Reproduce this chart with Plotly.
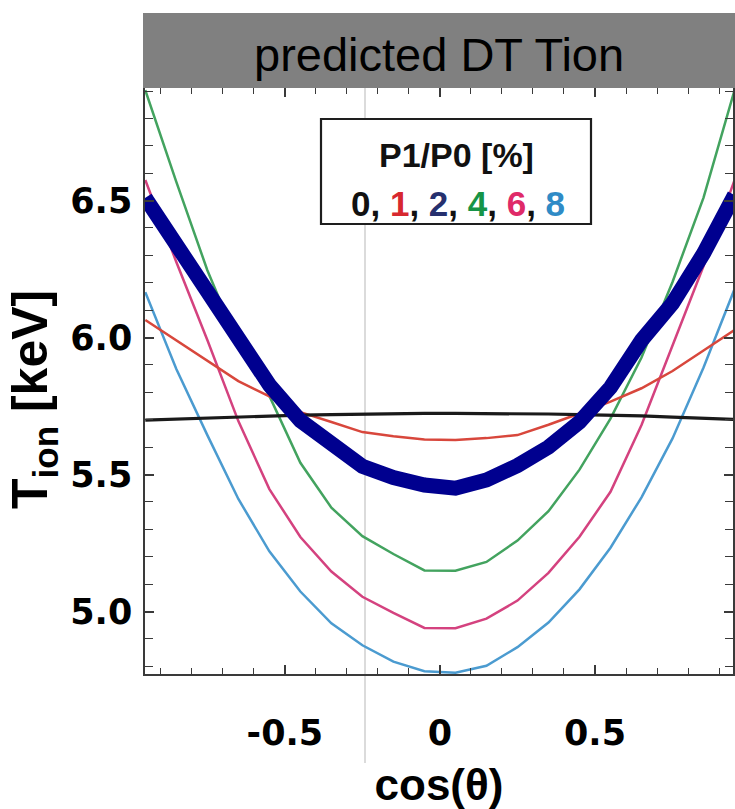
import plotly.graph_objects as go

# ---- data ----
cos_theta = [-0.95, -0.85, -0.75, -0.65, -0.55, -0.45, -0.35, -0.25, -0.15, -0.05,
             0.05, 0.15, 0.25, 0.35, 0.45, 0.55, 0.65, 0.75, 0.85, 0.95]

tion_p0 = [5.699, 5.703, 5.706, 5.710, 5.714, 5.717, 5.719, 5.721, 5.723, 5.723,
           5.723, 5.723, 5.723, 5.721, 5.719, 5.717, 5.714, 5.710, 5.706, 5.701]
tion_p1 = [6.064, 5.990, 5.916, 5.841, 5.785, 5.728, 5.692, 5.655, 5.640, 5.628,
           5.626, 5.633, 5.644, 5.682, 5.723, 5.766, 5.815, 5.878, 5.953, 6.028]
tion_p2 = [6.510, 6.334, 6.162, 5.998, 5.827, 5.697, 5.613, 5.530, 5.489, 5.462,
           5.450, 5.480, 5.533, 5.600, 5.692, 5.818, 5.990, 6.125, 6.307, 6.520]
tion_p4 = [6.903, 6.568, 6.246, 5.976, 5.787, 5.543, 5.379, 5.275, 5.210, 5.150,
           5.149, 5.181, 5.259, 5.366, 5.518, 5.704, 5.927, 6.203, 6.511, 6.903]
tion_p6 = [6.575, 6.276, 5.991, 5.695, 5.447, 5.272, 5.146, 5.054, 4.995, 4.940,
           4.939, 4.974, 5.040, 5.141, 5.273, 5.437, 5.681, 5.969, 6.261, 6.575]
tion_p8 = [6.166, 5.885, 5.644, 5.411, 5.220, 5.073, 4.957, 4.877, 4.817, 4.782,
           4.777, 4.802, 4.870, 4.960, 5.081, 5.233, 5.417, 5.632, 5.891, 6.177]

x_tick_vals = [-0.5, 0, 0.5]
x_tick_text = ["-0.5", "0", "0.5"]
y_tick_vals = [5.0, 5.5, 6.0, 6.5]
y_tick_text = ["5.0", "5.5", "6.0", "6.5"]

legend_title = "P1/P0 [%]"
legend_labels = ["0", "1", "2", "4", "6", "8"]

# ---- styles ----
C_BLACK = "#1a1a1a"
C_RED = "#d8473c"
C_NAVY = "#00008f"
C_GREEN = "#43a35f"
C_PINK = "#d4427f"
C_LBLUE = "#4b9bd0"
legend_colors = ["#111111", "#d7282f", "#26306e", "#169447", "#df2a68", "#2f8bc6"]

series = [
    (tion_p8, C_LBLUE, 2.5),
    (tion_p6, C_PINK, 2.5),
    (tion_p4, C_GREEN, 2.5),
    (tion_p1, C_RED, 2.5),
    (tion_p0, C_BLACK, 3.2),
    (tion_p2, C_NAVY, 15),
]

fig = go.Figure()
for vals, col, w in series:
    fig.add_trace(go.Scatter(x=cos_theta, y=vals, mode="lines",
                             line=dict(color=col, width=w), showlegend=False,
                             hoverinfo="skip"))

W, H = 735, 809
L, R, T, B = 145, 2, 88, 135
pw, ph = W - L - R, H - T - B


def px(x):
    return (x - L) / pw


def py(y):
    return (H - B - y) / ph


axis_col = "#3a3a3a"
tick_font = dict(family="DejaVu Sans", size=35, color="black", weight="bold")

fig.update_xaxes(range=[-0.951, 0.945], tickmode="array", tickvals=x_tick_vals,
                 ticktext=x_tick_text, ticks="inside", ticklen=9, tickwidth=1.5,
                 tickcolor=axis_col, showline=True, linecolor=axis_col, linewidth=1.5,
                 mirror="ticks", showgrid=False, zeroline=False, tickfont=tick_font,
                 ticklabelstandoff=27,
                 minor=dict(dtick=0.1, ticks="inside", ticklen=6, tickwidth=1.2,
                            tickcolor=axis_col, showgrid=False),
                 title=dict(text="cos(θ)", standoff=32,
                            font=dict(family="Liberation Sans", size=44,
                                      color="black", weight="bold")))
fig.update_yaxes(range=[4.772, 6.911], tickmode="array", tickvals=y_tick_vals,
                 ticktext=y_tick_text, ticks="inside", ticklen=9, tickwidth=1.5,
                 tickcolor=axis_col, showline=True, linecolor=axis_col, linewidth=1.5,
                 mirror="ticks", showgrid=False, zeroline=False, tickfont=tick_font,
                 ticklabelstandoff=4,
                 minor=dict(dtick=0.1, ticks="inside", ticklen=8, tickwidth=1.2,
                            tickcolor=axis_col, showgrid=False))

shapes = [
    # grey vertical guide line
    dict(type="line", xref="paper", yref="paper", x0=px(365), x1=px(365),
         y0=py(763), y1=py(88), line=dict(color="#cfcfcf", width=1.5), layer="below"),
    # title banner
    dict(type="rect", xref="paper", yref="paper", x0=px(143), x1=px(735),
         y0=py(88), y1=py(13), fillcolor="#808080", line=dict(width=0), layer="above"),
    # legend box
    dict(type="rect", xref="paper", yref="paper", x0=px(321), x1=px(591),
         y0=py(224), y1=py(119), fillcolor="white",
         line=dict(color="#1e1e1e", width=2.2), layer="above"),
]

legend_line = ", ".join(
    f"<span style='color:{c}'>{t}</span>" for t, c in zip(legend_labels, legend_colors))

annotations = [
    dict(text="predicted DT Tion", xref="paper", yref="paper", x=px(439), y=py(55),
         xanchor="center", yanchor="middle", showarrow=False,
         font=dict(family="Liberation Sans", size=47, color="black")),
    dict(text=legend_title, xref="paper", yref="paper", x=px(456), y=py(155),
         xanchor="center", yanchor="middle", showarrow=False,
         font=dict(family="Liberation Sans", size=34, color="#111111", weight="bold")),
    dict(text=legend_line, xref="paper", yref="paper", x=px(458), y=py(203),
         xanchor="center", yanchor="middle", showarrow=False,
         font=dict(family="Liberation Sans", size=35, color="#111111", weight="bold")),
    # y-axis title
    dict(text="T<sub>ion</sub> [keV]", xref="paper", yref="paper", x=px(34), y=py(400),
         xanchor="center", yanchor="middle", textangle=-90, showarrow=False,
         font=dict(family="Liberation Sans", size=50, color="black", weight="bold")),
]

fig.update_layout(width=W, height=H, margin=dict(l=L, r=R, t=T, b=B, autoexpand=False),
                  paper_bgcolor="white", plot_bgcolor="white",
                  shapes=shapes, annotations=annotations, showlegend=False)

fig.write_html("out.html")
